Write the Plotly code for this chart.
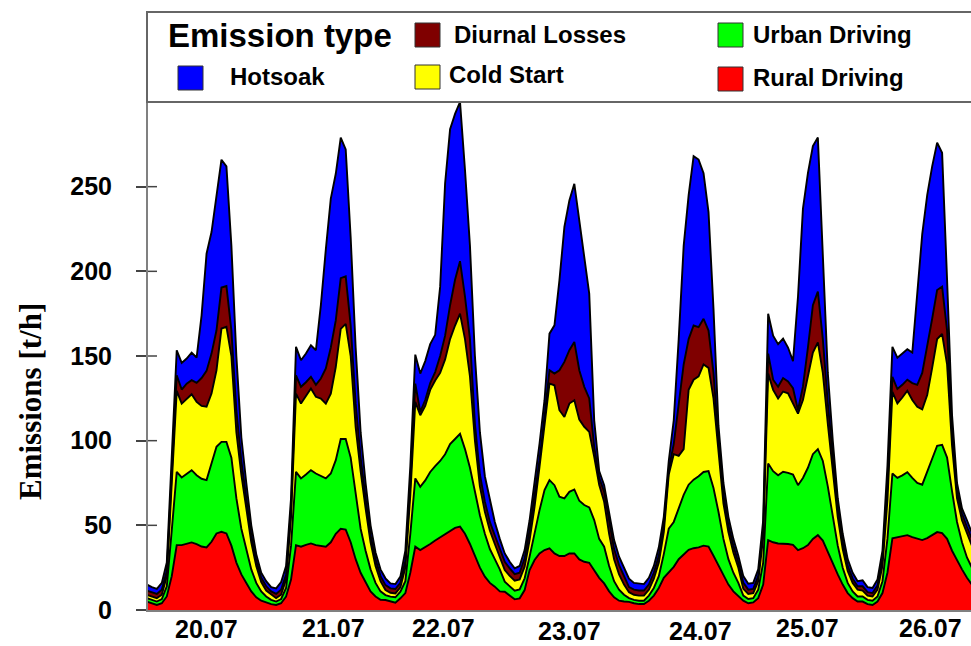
import plotly.graph_objects as go

# ---------------- data (t/h, hourly, 7 days) ----------------
hours = list(range(168))

rural = [
    5, 4, 3, 4, 8, 20, 38.3, 38.3, 39.3, 39.9, 38.9, 37.5, 37, 40.3, 45.2, 46.2, 45.2, 38, 28, 21, 16, 11, 7.5, 5.5,
    4.5, 3.5, 3, 4, 8, 18, 38.3, 37.4, 38.5, 39.3, 38.3, 38, 37.4, 40, 45, 48, 47.5, 40, 30, 22, 16, 11, 8, 6,
    5.9, 4.9, 4.3, 6.9, 10, 22, 37.4, 35.4, 37, 39, 41, 43, 45, 47, 48.5, 49.2, 45, 39, 32, 25, 19.7, 16, 13.8, 11,
    10.8, 8.3, 6.3, 6.9, 11.8, 23.6, 29.5, 33.4, 35.4, 36.4, 33.4, 31.9, 31.9, 33.4, 33.4, 29.9, 28.5, 27.9, 23.6, 19, 15.7, 11, 7.5, 5.5,
    5, 4.8, 4, 3.5, 3.5, 5.5, 8.5, 13, 19, 22, 25.5, 30, 33, 35.5, 36.5, 37, 38, 37.5, 32, 26, 20, 15, 11, 8,
    5.5, 4, 4.5, 7, 15, 41.3, 40, 39.3, 39.3, 39, 38.5, 35.4, 36.5, 38.3, 42, 44.2, 41, 34, 28, 21, 15, 10, 7, 5,
    5, 3.5, 3, 5, 10, 22, 42.3, 43, 43.8, 44.2, 43, 42, 41.3, 42.5, 44.5, 46, 45.4, 42, 35, 29, 24, 19, 15, 12,
]
urban = [
    2, 2, 2, 2.5, 6, 27, 43.3, 40, 41.3, 42.7, 40.7, 40, 39.7, 46.2, 51.2, 53.1, 54.1, 52, 38, 27, 20, 13, 8.5, 5.5,
    3.5, 2.5, 2, 2.5, 5, 20, 43.3, 40.3, 41.5, 43.3, 42.3, 41, 40.3, 40.6, 43.5, 53, 53.5, 50, 38, 26, 19, 13, 8, 5,
    2.9, 3, 3.2, 3.9, 7, 23, 40.3, 37.4, 39.5, 42.5, 44, 45, 47, 51, 52.5, 54.8, 50, 45, 38, 31, 25.3, 20, 16.2, 13,
    5.9, 5.5, 5.1, 5.3, 6.9, 7.9, 16.7, 25.6, 35.4, 40.3, 40.3, 35, 34, 36.4, 37.8, 34.6, 33.5, 32.7, 29.5, 23, 21.7, 15, 9.5, 6.5,
    4, 2.2, 2, 2, 2, 3, 4.5, 7, 14, 26, 26.5, 30, 35, 38.5, 40.5, 42, 43.5, 44.5, 40, 32, 22, 15, 11, 8,
    3, 2.5, 2.5, 5, 13, 45.2, 42, 40.3, 42.3, 42, 41.5, 38.3, 41.5, 45.7, 50, 50.8, 47, 39, 28, 17, 10, 6, 4, 3,
    3, 2.5, 2.5, 3, 7, 20, 38.3, 35, 35.7, 37.2, 35, 33, 32.7, 39.5, 45.5, 51, 52.1, 48, 35, 23, 16, 12, 10, 8,
]
cold_start = [
    2, 2, 2, 2.5, 6, 28, 47.8, 43.6, 44.3, 44.8, 43.3, 43, 43.3, 41.3, 45.2, 66.9, 67.9, 60, 39, 32, 24, 16, 10, 5.5,
    3.5, 3, 2, 2.5, 5, 17, 46.2, 44.2, 46, 48.2, 45.3, 45.9, 44.2, 47.2, 55, 65, 68, 60, 40, 34, 25, 16, 10, 6,
    3, 2.3, 2.3, 2.6, 8, 23, 45.2, 42.2, 44, 48.5, 50.5, 52, 56, 62, 67, 71, 65, 54, 30, 17, 13, 11, 9, 7,
    6.9, 6.3, 5.9, 5.9, 6.9, 9.8, 14.8, 25.6, 37.2, 57, 59, 51.1, 48.1, 52.1, 52.7, 48, 46.2, 44.6, 37.4, 32, 26.5, 19, 13, 9,
    6, 3.5, 3, 3, 3, 3.5, 5.5, 8, 13, 32, 40, 31, 27, 56, 59, 59, 63.5, 61, 53, 36, 21, 16, 12, 9,
    4, 3, 3, 5, 15, 53.1, 48, 45.3, 47.4, 47, 42, 42.3, 46, 54, 60, 63, 52, 37, 26, 17, 11, 7, 5, 4,
    3.5, 2.5, 2.5, 4, 9, 23, 48.2, 44, 46, 48.1, 46, 45, 44.5, 45, 53, 63, 65.5, 55, 27, 14, 13, 14, 13, 11,
]
diurnal = [
    2.5, 2.5, 2.5, 3, 3, 6, 9.2, 8.3, 8.8, 8.3, 11.2, 16.5, 21.2, 23.6, 23.6, 24.2, 24.1, 15, 13, 8, 6, 4, 3, 2.5,
    2.5, 2, 2.5, 3, 3, 5, 10.8, 9.9, 8.5, 6.9, 7.1, 11.8, 20.7, 27.2, 27.5, 30, 28, 18, 14, 8, 6, 4, 4, 3,
    2.9, 2.6, 2.6, 2.7, 4, 6, 10.8, 2, 3.5, 4, 5, 10, 14, 20, 27, 31, 25, 22, 10, 7, 6, 5, 5, 5,
    4.9, 4.5, 3.9, 3.9, 4.9, 5.9, 5.9, 3.9, 6.1, 7.9, 6.9, 23.6, 32.5, 31.5, 34.4, 29.1, 23.6, 19.7, 5.9, 4, 5.9, 7, 6, 5.5,
    5, 3, 3, 3, 3, 3, 3.5, 4, 4, 3, 6, 29, 50, 30, 32, 29, 27, 22, 15, 6, 5, 4, 4, 3,
    3.5, 2.5, 2.5, 3, 5, 11.8, 6, 6.9, 8, 7, 9, 2, 8, 17, 28, 30, 20, 12, 8, 5, 4, 3, 2.5, 2,
    2.5, 2, 2, 2.5, 4, 8, 8.9, 8.5, 7.5, 6.5, 10, 13, 21.5, 28, 29, 29, 28, 20, 8, 4, 4, 4, 4, 4,
]
hotsoak = [
    3.5, 3, 3, 4, 5, 10, 14.8, 15.7, 14.8, 16.3, 15, 37, 69.2, 71.8, 78.7, 75.5, 70.7, 50, 32, 14, 9, 6, 4, 3,
    3, 2.5, 3.3, 4.5, 5, 6, 16.8, 15.7, 17, 18.6, 20.4, 43.3, 70.4, 88, 86.6, 83, 75, 52, 33, 15, 9, 6, 4, 4,
    4, 2.9, 2.9, 3.6, 6, 11, 17.1, 22.6, 23, 23, 22, 40.8, 90, 104, 98, 94, 75, 55, 40, 25, 15, 13, 8, 6,
    4.9, 3.9, 3.4, 4, 4.9, 5.8, 7.8, 9.8, 9.8, 21.6, 28.5, 53.1, 79.7, 88.5, 93.4, 88.5, 78.6, 61.9, 15.6, 4, 3.9, 5, 5.3, 5,
    5, 5, 4, 4, 3.8, 4, 4, 5, 5, 5, 14, 40, 70, 85, 100, 99, 86, 70, 38, 9, 7, 5, 4, 4,
    4, 3.5, 3.5, 4, 5, 23.6, 26, 25.2, 23.3, 20, 16, 67, 105, 103, 94, 91, 50, 18, 10, 6, 5, 4, 3.5, 3,
    3.5, 3, 3, 3.5, 5, 12, 17.7, 18.5, 18.5, 18, 18, 52, 82, 90, 90, 87, 79, 30, 10, 5, 3, 4, 4, 3,
]

series_names = ["Rural Driving", "Urban Driving", "Cold Start", "Diurnal Losses", "Hotsoak"]
series_values = [rural, urban, cold_start, diurnal, hotsoak]
series_colors = ["#ff0000", "#00ff00", "#ffff00", "#7f0000", "#0000ff"]

y_ticks = [0, 50, 100, 150, 200, 250]
day_labels = ["20.07", "21.07", "22.07", "23.07", "24.07", "25.07", "26.07"]
day_label_hour = [11.9, 37.6, 59.6, 85.1, 111.3, 133.0, 157.6]
day_label_ypx = [629, 628, 628, 631, 631, 628, 628]

# legend layout (order and placement as in the picture)
legend_entries = ["Diurnal Losses", "Urban Driving", "Hotsoak", "Cold Start", "Rural Driving"]
legend_swatch_px = [(415, 23), (718, 23), (178, 66), (415, 65), (718, 67)]
legend_text_px = [(452, 34), (751, 34), (228, 76), (447, 74), (751, 77)]

# ---------------- geometry ----------------
W, H = 971, 646
L, R, T, B = 148, 0, 102, 36
PW, PH = W - L - R, H - T - B
X_RANGE = [0.22, 0.22 + PW / 4.97]
Y_RANGE = [0, 300]


def xp(px):
    return (px - L) / PW


def yp(py):
    return (H - B - py) / PH


FONT = "Liberation Sans, Arial, sans-serif"

fig = go.Figure()
for name, vals, col in zip(series_names, series_values, series_colors):
    fig.add_trace(go.Scatter(
        x=hours, y=vals, name=name, mode="lines",
        stackgroup="one", fillcolor=col,
        line=dict(color="black", width=1.9, shape="linear"),
        hoverinfo="skip", showlegend=False,
    ))

shapes = []
# legend box
shapes.append(dict(type="rect", xref="paper", yref="paper",
                   x0=xp(147), x1=xp(990), y0=yp(102), y1=yp(12),
                   line=dict(color="#666666", width=2), fillcolor="white", layer="above"))
color_of = dict(zip(series_names, series_colors))
for name, (sx, sy) in zip(legend_entries, legend_swatch_px):
    shapes.append(dict(type="rect", xref="paper", yref="paper",
                       x0=xp(sx), x1=xp(sx + 25), y0=yp(sy + 24), y1=yp(sy),
                       line=dict(color="#333333", width=1), fillcolor=color_of[name], layer="above"))
# inner part of the y ticks (ticks cross the axis)
for v in y_ticks[1:]:
    shapes.append(dict(type="line", xref="paper", yref="y", x0=0, x1=xp(157), y0=v, y1=v,
                       line=dict(color="#444444", width=1.5), layer="above"))

annotations = []
annotations.append(dict(text="Emission type", xref="paper", yref="paper",
                        x=xp(166), y=yp(35), xanchor="left", yanchor="middle", showarrow=False,
                        font=dict(family=FONT, size=33, color="black", weight="bold")))
for name, (tx, ty) in zip(legend_entries, legend_text_px):
    annotations.append(dict(text=name, xref="paper", yref="paper",
                            x=xp(tx), y=yp(ty), xanchor="left", yanchor="middle", showarrow=False,
                            font=dict(family=FONT, size=24, color="black", weight="bold")))
for lab, hx, py in zip(day_labels, day_label_hour, day_label_ypx):
    annotations.append(dict(text=lab, xref="x", yref="paper", x=hx, y=yp(py),
                            xanchor="center", yanchor="middle", showarrow=False,
                            font=dict(family=FONT, size=25, color="black", weight="bold")))
annotations.append(dict(text="Emissions [t/h]", xref="paper", yref="paper",
                        x=xp(30), y=yp(402), textangle=-90, xanchor="center", yanchor="middle",
                        showarrow=False,
                        font=dict(family="Liberation Serif, Times New Roman, serif", size=31,
                                  color="black", weight="bold")))

fig.update_layout(
    width=W, height=H,
    margin=dict(l=L, r=R, t=T, b=B, pad=0),
    paper_bgcolor="white", plot_bgcolor="white",
    shapes=shapes, annotations=annotations,
    xaxis=dict(range=X_RANGE, showgrid=False, zeroline=False, showticklabels=False,
               ticks="", showline=True, linecolor="#808080", linewidth=2, fixedrange=True),
    yaxis=dict(range=Y_RANGE, showgrid=False, zeroline=False, tickvals=y_ticks,
               ticks="outside", ticklen=10, tickwidth=1.5, tickcolor="#444444",
               ticklabelstandoff=19,
               tickfont=dict(family=FONT, size=25, color="black", weight="bold"),
               showline=True, linecolor="#808080", linewidth=2, fixedrange=True),
)

fig.write_html("out.html")
